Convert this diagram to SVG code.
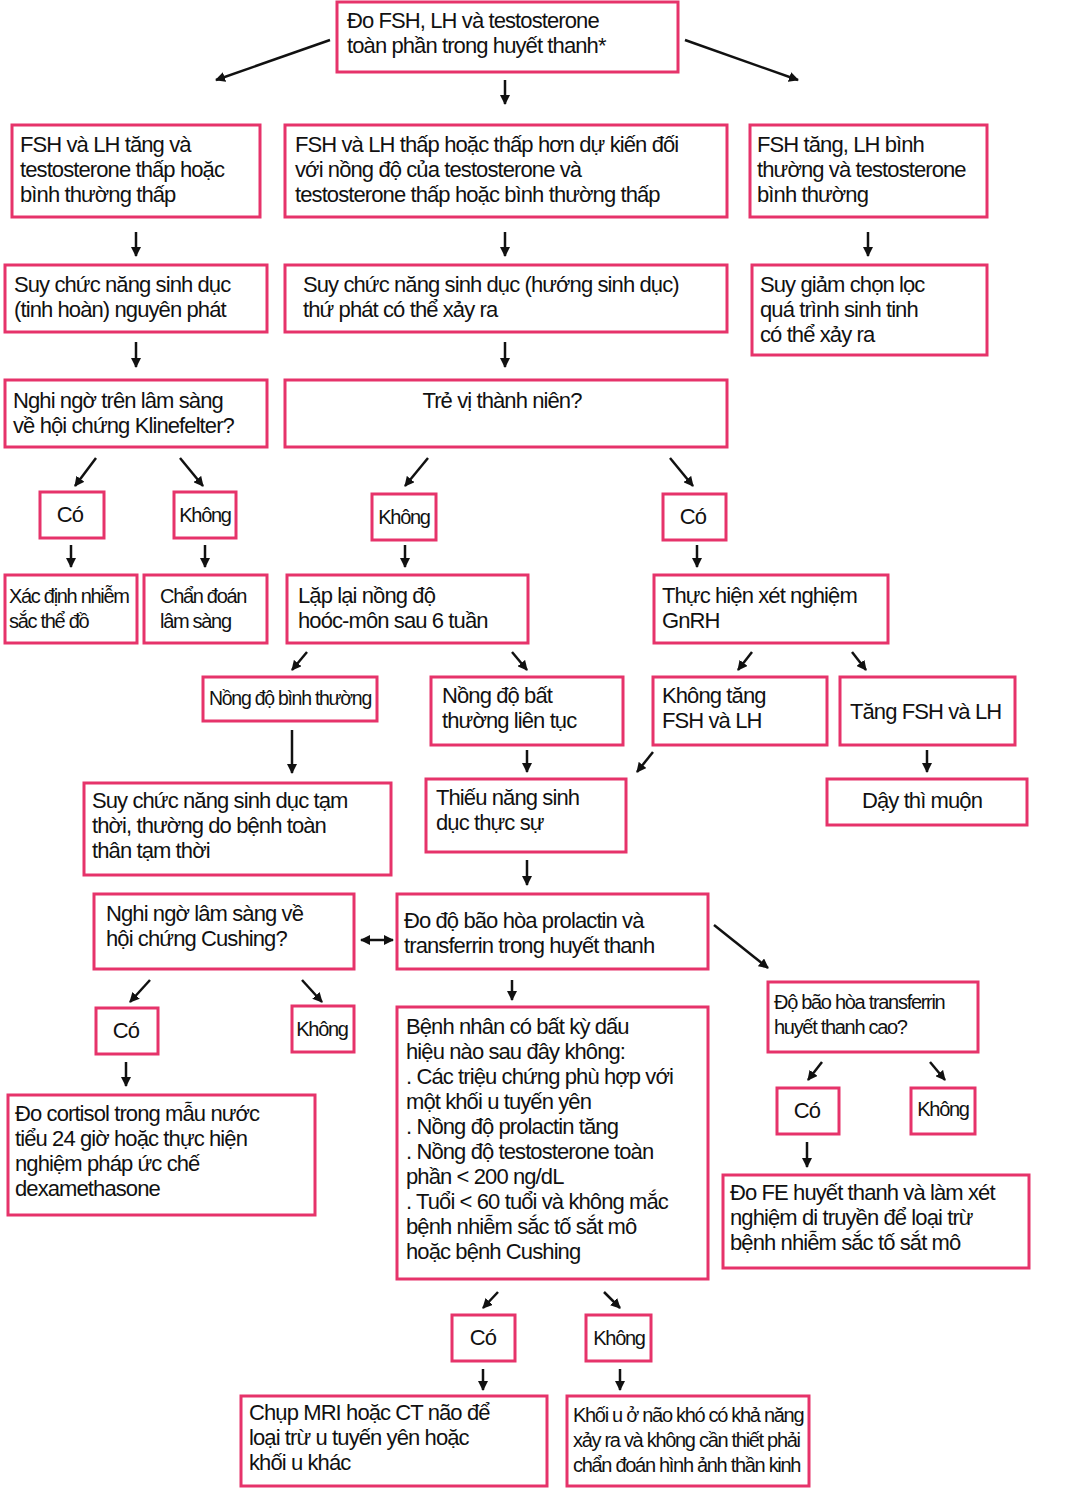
<svg xmlns="http://www.w3.org/2000/svg" width="1080" height="1504" viewBox="0 0 1080 1504">
<style>
rect{fill:#fff;stroke:#e6336a;stroke-width:3}
text{font-family:"Liberation Sans",Arial,sans-serif;font-size:22px;fill:#111;letter-spacing:-0.9px}
.s{font-size:20px;letter-spacing:-1.3px}
.c{text-anchor:middle}
#conn line{stroke:#111;stroke-width:2.5;marker-end:url(#a)}
</style>
<defs><marker id="a" viewBox="0 0 10 10" refX="9" refY="5" markerWidth="4" markerHeight="4" orient="auto-start-reverse"><path d="M0,0L10,5L0,10z" fill="#111"/></marker></defs>
<rect width="1080" height="1504" style="stroke:none"/>
<g id="n1"><rect x="337" y="2" width="341" height="70"/><text x="347" y="28">Đo FSH, LH và testosterone</text><text x="347" y="53">toàn phần trong huyết thanh*</text></g>
<g id="n2"><rect x="12" y="125" width="248" height="92"/><text x="20" y="152">FSH và LH tăng và</text><text x="20" y="177">testosterone thấp hoặc</text><text x="20" y="202">bình thường thấp</text></g>
<g id="n3"><rect x="285" y="125" width="442" height="92"/><text x="295" y="152">FSH và LH thấp hoặc thấp hơn dự kiến đối</text><text x="295" y="177">với nồng độ của testosterone và</text><text x="295" y="202">testosterone thấp hoặc bình thường thấp</text></g>
<g id="n4"><rect x="750" y="125" width="237" height="92"/><text x="757" y="152">FSH tăng, LH bình</text><text x="757" y="177">thường và testosterone</text><text x="757" y="202">bình thường</text></g>
<g id="n5"><rect x="5" y="265" width="262" height="67"/><text x="14" y="292">Suy chức năng sinh dục</text><text x="14" y="317">(tinh hoàn) nguyên phát</text></g>
<g id="n6"><rect x="285" y="265" width="442" height="67"/><text x="303" y="292">Suy chức năng sinh dục (hướng sinh dục)</text><text x="303" y="317">thứ phát có thể xảy ra</text></g>
<g id="n7"><rect x="752" y="265" width="235" height="90"/><text x="760" y="292">Suy giảm chọn lọc</text><text x="760" y="317">quá trình sinh tinh</text><text x="760" y="342">có thể xảy ra</text></g>
<g id="n8"><rect x="5" y="380" width="262" height="67"/><text x="13" y="408">Nghi ngờ trên lâm sàng</text><text x="13" y="433">về hội chứng Klinefelter?</text></g>
<g id="n9"><rect x="285" y="380" width="442" height="67"/><text class="c" x="502" y="408">Trẻ vị thành niên?</text></g>
<g id="n10"><rect x="40" y="492" width="64" height="46"/><text class="c" x="70" y="522">Có</text></g>
<g id="n11"><rect x="174" y="492" width="62" height="46"/><text class="c s" x="205" y="522">Không</text></g>
<g id="n12"><rect x="372" y="494" width="64" height="46"/><text class="c s" x="404" y="524">Không</text></g>
<g id="n13"><rect x="663" y="494" width="63" height="46"/><text class="c" x="693" y="524">Có</text></g>
<g id="n14"><rect x="5" y="575" width="132" height="68"/><text class="s" x="9" y="603">Xác định nhiễm</text><text class="s" x="9" y="628">sắc thể đồ</text></g>
<g id="n15"><rect x="144" y="575" width="123" height="68"/><text class="s" x="160" y="603">Chẩn đoán</text><text class="s" x="160" y="628">lâm sàng</text></g>
<g id="n16"><rect x="287" y="575" width="241" height="68"/><text x="298" y="603">Lặp lại nồng độ</text><text x="298" y="628">hoóc-môn sau 6 tuần</text></g>
<g id="n17"><rect x="654" y="575" width="234" height="68"/><text x="662" y="603">Thực hiện xét nghiệm</text><text x="662" y="628">GnRH</text></g>
<g id="n18"><rect x="203" y="677" width="174" height="44"/><text class="s" x="209" y="705" textLength="162" lengthAdjust="spacingAndGlyphs">Nồng độ bình thường</text></g>
<g id="n19"><rect x="431" y="677" width="192" height="68"/><text x="442" y="703">Nồng độ bất</text><text x="442" y="728">thường liên tục</text></g>
<g id="n20"><rect x="653" y="677" width="174" height="68"/><text x="662" y="703">Không tăng</text><text x="662" y="728">FSH và LH</text></g>
<g id="n21"><rect x="840" y="677" width="175" height="68"/><text x="850" y="719">Tăng FSH và LH</text></g>
<g id="n22"><rect x="827" y="779" width="200" height="46"/><text x="862" y="808">Dậy thì muộn</text></g>
<g id="n23"><rect x="84" y="783" width="307" height="92"/><text x="92" y="808">Suy chức năng sinh dục tạm</text><text x="92" y="833">thời, thường do bệnh toàn</text><text x="92" y="858">thân tạm thời</text></g>
<g id="n24"><rect x="426" y="779" width="200" height="73"/><text x="436" y="805">Thiếu năng sinh</text><text x="436" y="830">dục thực sự</text></g>
<g id="n25"><rect x="94" y="894" width="260" height="75"/><text x="106" y="921">Nghi ngờ lâm sàng về</text><text x="106" y="946">hội chứng Cushing?</text></g>
<g id="n26"><rect x="397" y="894" width="311" height="75"/><text x="404" y="928">Đo độ bão hòa prolactin và</text><text x="404" y="953">transferrin trong huyết thanh</text></g>
<g id="n27"><rect x="768" y="982" width="210" height="70"/><text class="s" x="774" y="1009">Độ bão hòa transferrin</text><text class="s" x="774" y="1034">huyết thanh cao?</text></g>
<g id="n28"><rect x="96" y="1008" width="62" height="46"/><text class="c" x="126" y="1038">Có</text></g>
<g id="n29"><rect x="292" y="1006" width="62" height="46"/><text class="c s" x="322" y="1036">Không</text></g>
<g id="n30"><rect x="397" y="1007" width="311" height="272"/><text x="406" y="1034">Bệnh nhân có bất kỳ dấu</text><text x="406" y="1059">hiệu nào sau đây không:</text><text x="406" y="1084">. Các triệu chứng phù hợp với</text><text x="406" y="1109">một khối u tuyến yên</text><text x="406" y="1134">. Nồng độ prolactin tăng</text><text x="406" y="1159">. Nồng độ testosterone toàn</text><text x="406" y="1184">phần &lt; 200 ng/dL</text><text x="406" y="1209">. Tuổi &lt; 60 tuổi và không mắc</text><text x="406" y="1234">bệnh nhiễm sắc tố sắt mô</text><text x="406" y="1259">hoặc bệnh Cushing</text></g>
<g id="n31"><rect x="777" y="1088" width="62" height="46"/><text class="c" x="807" y="1118">Có</text></g>
<g id="n32"><rect x="911" y="1088" width="64" height="46"/><text class="c s" x="943" y="1116">Không</text></g>
<g id="n33"><rect x="8" y="1095" width="307" height="120"/><text x="15" y="1121">Đo cortisol trong mẫu nước</text><text x="15" y="1146">tiểu 24 giờ hoặc thực hiện</text><text x="15" y="1171">nghiệm pháp ức chế</text><text x="15" y="1196">dexamethasone</text></g>
<g id="n34"><rect x="723" y="1175" width="306" height="93"/><text x="730" y="1200">Đo FE huyết thanh và làm xét</text><text x="730" y="1225">nghiệm di truyền để loại trừ</text><text x="730" y="1250">bệnh nhiễm sắc tố sắt mô</text></g>
<g id="n35"><rect x="452" y="1315" width="63" height="46"/><text class="c" x="483" y="1345">Có</text></g>
<g id="n36"><rect x="586" y="1315" width="65" height="46"/><text class="c s" x="619" y="1345">Không</text></g>
<g id="n37"><rect x="241" y="1396" width="306" height="90"/><text x="249" y="1420">Chụp MRI hoặc CT não để</text><text x="249" y="1445">loại trừ u tuyến yên hoặc</text><text x="249" y="1470">khối u khác</text></g>
<g id="n38"><rect x="567" y="1396" width="242" height="90"/><text class="s" x="573" y="1422">Khối u ở não khó có khả năng</text><text class="s" x="573" y="1447">xảy ra và không cần thiết phải</text><text class="s" x="573" y="1472">chẩn đoán hình ảnh thần kinh</text></g>
<g id="conn">
<line x1="330" y1="40" x2="216" y2="80"/><line x1="505" y1="80" x2="505" y2="104"/><line x1="685" y1="40" x2="798" y2="80"/>
<line x1="136" y1="232" x2="136" y2="256"/><line x1="505" y1="232" x2="505" y2="256"/><line x1="868" y1="232" x2="868" y2="256"/>
<line x1="136" y1="342" x2="136" y2="367"/><line x1="505" y1="342" x2="505" y2="367"/>
<line x1="96" y1="458" x2="75" y2="486"/><line x1="180" y1="458" x2="203" y2="486"/><line x1="428" y1="458" x2="405" y2="486"/><line x1="670" y1="458" x2="693" y2="486"/>
<line x1="71" y1="545" x2="71" y2="567"/><line x1="205" y1="545" x2="205" y2="567"/><line x1="405" y1="545" x2="405" y2="567"/><line x1="697" y1="545" x2="697" y2="567"/>
<line x1="307" y1="652" x2="292" y2="670"/><line x1="512" y1="652" x2="527" y2="670"/><line x1="752" y1="652" x2="738" y2="670"/><line x1="852" y1="652" x2="866" y2="670"/>
<line x1="292" y1="730" x2="292" y2="773"/><line x1="527" y1="750" x2="527" y2="772"/><line x1="653" y1="752" x2="637" y2="772"/><line x1="927" y1="750" x2="927" y2="772"/>
<line x1="527" y1="860" x2="527" y2="885"/><line x1="361" y1="940" x2="393" y2="940" marker-start="url(#a)"/><line x1="714" y1="925" x2="768" y2="968"/>
<line x1="150" y1="980" x2="130" y2="1002"/><line x1="302" y1="980" x2="322" y2="1002"/><line x1="512" y1="980" x2="512" y2="1000"/>
<line x1="822" y1="1062" x2="808" y2="1080"/><line x1="930" y1="1062" x2="945" y2="1080"/>
<line x1="126" y1="1062" x2="126" y2="1086"/><line x1="807" y1="1142" x2="807" y2="1167"/>
<line x1="498" y1="1292" x2="483" y2="1308"/><line x1="604" y1="1292" x2="620" y2="1308"/><line x1="483" y1="1369" x2="483" y2="1390"/><line x1="620" y1="1369" x2="620" y2="1390"/>
</g>
</svg>
